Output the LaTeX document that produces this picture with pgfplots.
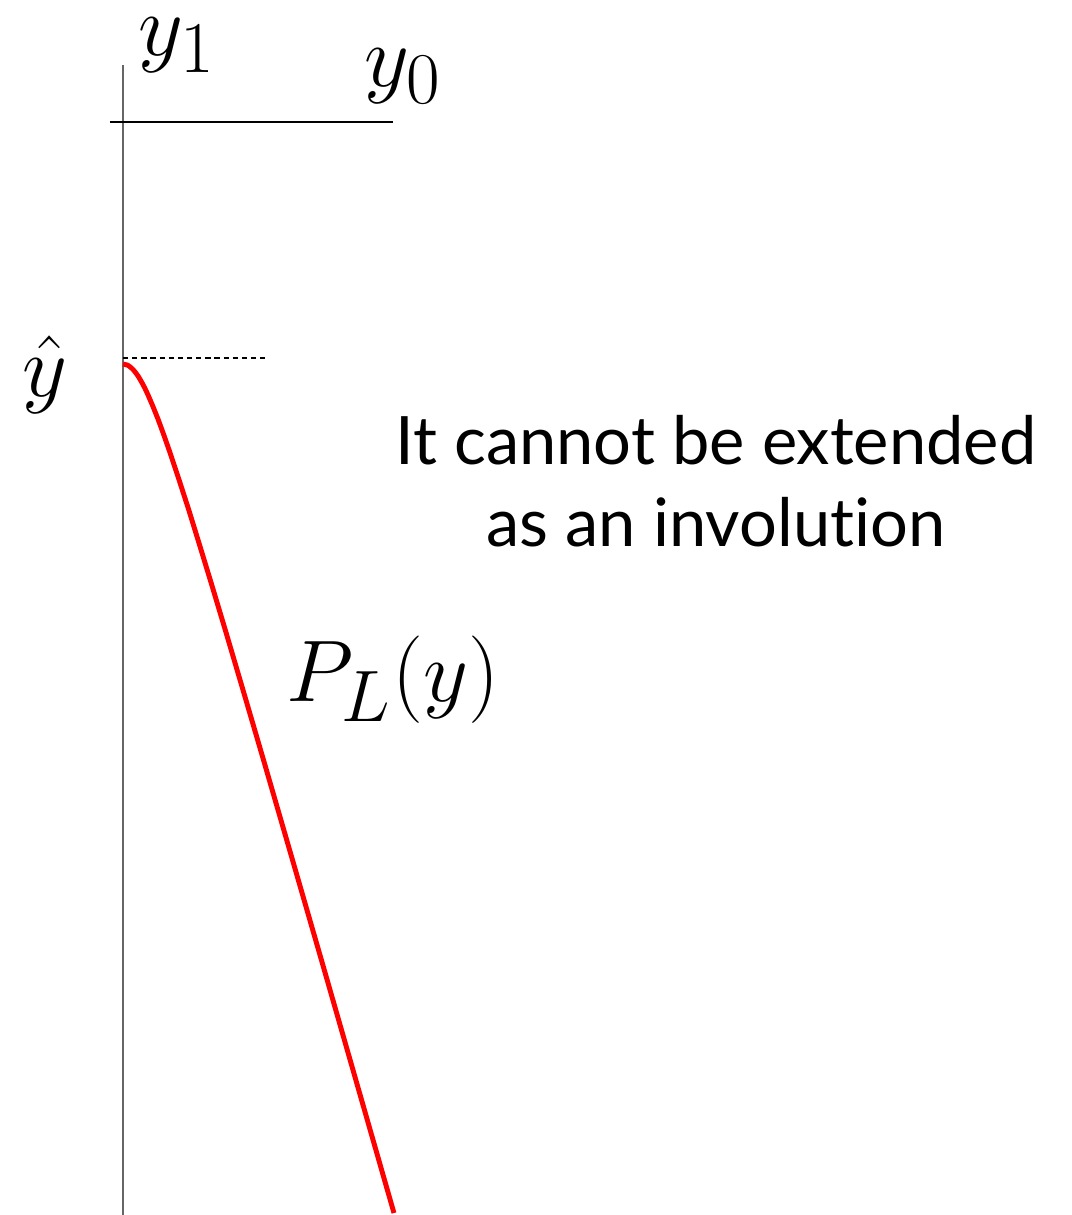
\documentclass[border=0pt]{standalone}
\usepackage{pgfplots}
\pgfplotsset{compat=1.18}
\usepackage{fontspec}
\setmainfont{Lato}[Ligatures={NoCommon,NoDiscretionary}]
\begin{document}
\begin{tikzpicture}
\begin{axis}[
  scale only axis, width=304.9pt, height=345.6pt,
  xmin=0, xmax=1072, ymin=0, ymax=1215, y dir=reverse,
  hide axis, clip=false]
% axes
\addplot[draw=black!60, line width=0.6pt] coordinates {(123,65) (123,1215)};
\addplot[draw=black, line width=0.4pt] coordinates {(110,122) (393,122)};
% dotted level
\addplot[draw=black, line width=0.65pt, dash pattern=on 1.5pt off 1.1pt] coordinates {(123,358) (268,358)};
% red curve
\addplot[draw=red, line width=1.4pt, line join=round] coordinates {
(123,364) (127.2,365) (129.0,366) (131.5,368) (133.5,370) (135.9,373) (138.7,377) (141.6,382) (144.8,388) (148.5,396) (152.8,406) (158.0,419) (163.5,434) (170.5,454) (178.8,479) (188.5,509) (199.3,544) (211.5,584) (226.5,634) (244.2,694) (264.7,764) (293.7,864) (322.6,964) (351.3,1064) (394.0,1213)};
\node[inner sep=0pt] at (axis cs:177,45) {\fontsize{28}{34}\selectfont $y_1$};
\node[inner sep=0pt] at (axis cs:403,76) {\fontsize{28}{34}\selectfont $y_0$};
\node[inner sep=0pt] at (axis cs:45,375) {\fontsize{28}{34}\selectfont $\hat{y}$};
\node[inner sep=0pt] at (axis cs:393,680) {\fontsize{28}{34}\selectfont $P_L(y)$};
\node[inner sep=0pt, align=center, font=\fontsize{19}{23.5}\selectfont] at (axis cs:716,481) {It cannot be extended\\as an involution};
\end{axis}
\pgfresetboundingbox
\path[use as bounding box] (current axis.south west) rectangle (current axis.north east);
\end{tikzpicture}
\end{document}
